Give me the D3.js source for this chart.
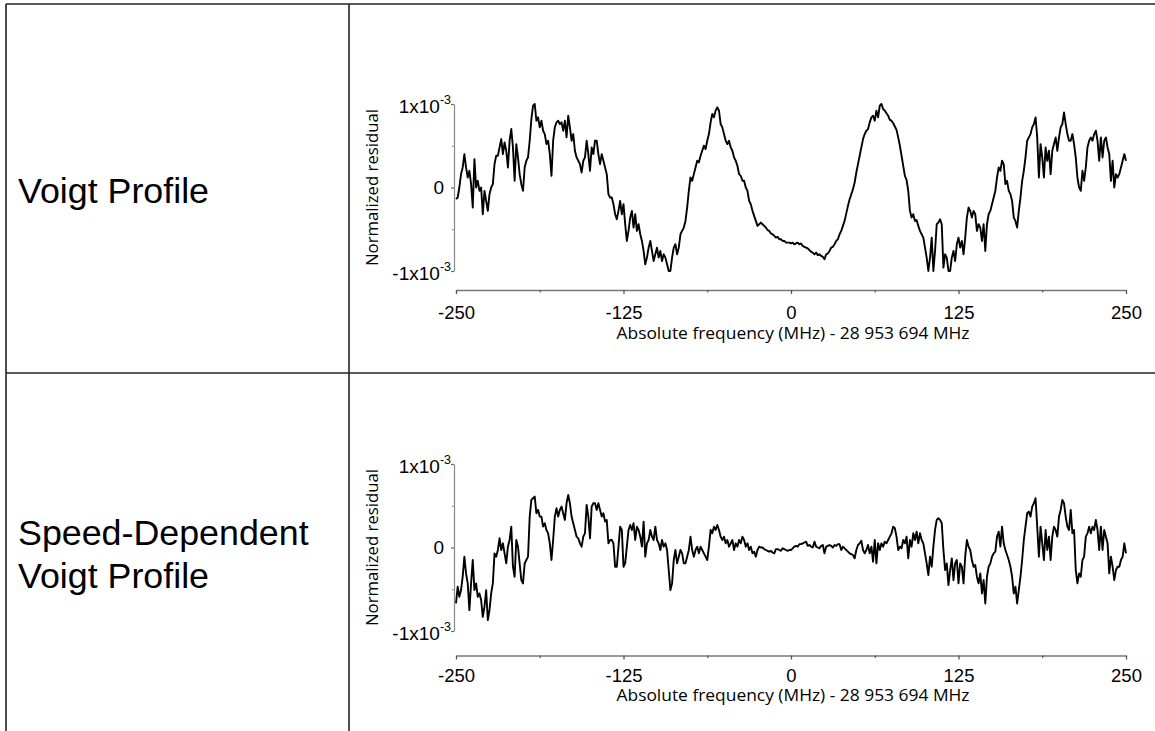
<!DOCTYPE html>
<html><head><meta charset="utf-8">
<script src="https://cdn.jsdelivr.net/npm/d3@7/dist/d3.min.js"></script>
<style>html,body{margin:0;padding:0;background:#fff;overflow:hidden}</style>
</head><body><svg id="c" width="1155" height="731"></svg>
<script>
// ---- data (residuals in units of 1e-3, sampled every 1.25 MHz from -250 MHz) ----
const freqStart = -250, freqStep = 1.25;
const voigtResidual = [
-0.14,-0.12,0.00,0.16,0.24,0.40,0.24,0.12,0.20,0.04,
-0.24,0.34,0.00,0.08,-0.04,0.00,-0.32,-0.04,-0.16,-0.28,
-0.08,0.00,0.04,0.28,0.38,0.38,0.48,0.58,0.40,0.54,
0.44,0.24,0.56,0.70,0.48,0.08,0.52,0.36,0.16,0.04,
-0.04,0.24,0.32,0.36,0.56,0.82,0.98,1.00,0.80,0.84,
0.72,0.80,0.68,0.64,0.52,0.56,0.40,0.14,0.56,0.72,
0.78,0.80,0.76,0.78,0.68,0.80,0.60,0.86,0.72,0.56,
0.64,0.44,0.36,0.32,0.28,0.18,0.32,0.36,0.56,0.40,
0.20,0.48,0.40,0.56,0.56,0.40,0.28,0.40,0.32,0.24,
0.16,-0.08,-0.12,-0.12,-0.20,-0.32,-0.38,-0.28,-0.16,-0.32,
-0.20,-0.44,-0.64,-0.52,-0.36,-0.28,-0.48,-0.32,-0.52,-0.44,
-0.56,-0.64,-0.76,-0.92,-0.84,-0.72,-0.64,-0.76,-0.88,-0.80,
-0.72,-0.84,-0.76,-0.88,-0.80,-0.84,-0.92,-1.00,-1.00,-0.84,
-0.72,-0.68,-0.80,-0.72,-0.56,-0.52,-0.48,-0.40,-0.24,-0.04,
0.12,0.08,0.16,0.24,0.32,0.30,0.38,0.44,0.50,0.46,
0.56,0.64,0.78,0.88,0.84,0.92,0.96,0.92,0.76,0.72,
0.64,0.56,0.52,0.56,0.48,0.44,0.36,0.32,0.26,0.16,
0.14,0.08,0.08,0.00,-0.04,-0.16,-0.20,-0.28,-0.34,-0.40,
-0.46,-0.44,
-0.42,-0.44,-0.46,-0.48,-0.51,-0.52,-0.55,-0.56,
-0.58,-0.60,-0.59,-0.62,-0.62,-0.64,-0.64,-0.66,-0.66,-0.66,
-0.67,-0.66,-0.68,-0.67,-0.66,-0.68,-0.67,-0.70,-0.71,-0.72,
-0.73,-0.75,-0.77,-0.78,-0.80,-0.78,-0.81,-0.80,-0.82,-0.83,
-0.86,-0.80,-0.79,-0.76,-0.72,-0.71,-0.68,-0.64,-0.62,-0.56,
-0.52,-0.46,-0.40,-0.31,-0.22,-0.14,-0.08,-0.02,0.06,0.18,
0.28,0.38,0.48,0.58,0.64,0.68,0.70,0.78,0.84,0.86,
0.80,0.92,0.84,0.98,1.00,0.94,0.92,0.89,0.86,0.81,
0.80,0.77,0.73,0.69,0.60,0.50,0.38,0.26,0.14,0.09,
-0.04,-0.28,-0.36,-0.32,-0.40,-0.39,-0.46,-0.52,-0.56,-0.60,
-0.72,-0.84,-1.00,-0.84,-0.60,-1.00,-0.76,-0.44,-0.42,-0.38,
-0.44,-0.96,-0.80,-0.84,-1.00,-1.00,-0.84,-0.76,-0.88,-0.68,
-0.60,-0.72,-0.64,-0.80,-0.60,-0.36,-0.24,-0.28,-0.36,-0.28,
-0.32,-0.52,-0.44,-0.48,-0.64,-0.44,-0.76,-0.44,-0.32,-0.28,
-0.20,-0.12,-0.04,0.12,0.24,0.20,0.32,0.28,0.04,0.08,
-0.04,-0.08,-0.16,-0.36,-0.40,-0.48,-0.28,-0.12,0.08,0.20,
0.36,0.56,0.60,0.64,0.72,0.76,0.84,0.60,0.12,0.52,
0.36,0.12,0.48,0.32,0.44,0.16,0.44,0.52,0.60,0.44,
0.60,0.72,0.76,0.90,0.76,0.64,0.56,0.56,0.64,0.52,
0.36,0.12,0.00,-0.04,0.20,0.08,0.24,0.48,0.56,0.60,
0.56,0.64,0.68,0.56,0.32,0.60,0.36,0.56,0.60,0.48,
0.40,0.08,0.32,0.00,0.16,0.12,0.16,0.24,0.32,0.40,
0.32
];
const sdvResidual = [
-0.67,-0.47,-0.59,-0.51,-0.35,-0.11,-0.31,-0.43,-0.75,-0.43,
-0.15,-0.51,-0.43,-0.59,-0.55,-0.63,-0.83,-0.71,-0.51,-0.87,
-0.75,-0.55,-0.43,-0.07,-0.11,-0.03,0.11,-0.03,0.05,-0.07,
-0.19,0.01,0.09,0.25,-0.23,-0.35,0.09,0.01,-0.19,-0.39,
-0.43,-0.19,-0.15,-0.11,0.37,0.57,0.59,0.61,0.41,0.45,
0.37,0.37,0.25,0.29,0.21,0.17,0.05,-0.15,0.09,0.37,
0.47,0.37,0.45,0.49,0.41,0.33,0.53,0.63,0.53,0.37,
0.29,0.21,0.13,0.11,0.05,0.01,0.13,0.17,0.51,0.37,
0.11,0.49,0.53,0.53,0.45,0.53,0.45,0.37,0.41,0.31,
0.33,0.05,0.09,0.09,0.05,-0.23,-0.23,0.01,0.25,0.21,
-0.23,-0.19,0.01,0.21,0.27,0.21,0.29,0.09,0.25,0.21,
0.13,0.01,0.31,-0.11,0.05,0.09,0.21,0.13,0.09,0.25,
0.09,0.05,-0.03,0.09,0.01,0.05,-0.03,-0.27,-0.51,-0.43,
-0.15,-0.03,-0.19,-0.11,-0.03,-0.07,-0.19,-0.19,-0.11,-0.03,
0.13,-0.03,-0.11,-0.03,0.01,-0.07,0.01,-0.03,-0.07,-0.11,
-0.15,0.01,0.21,0.17,0.25,0.21,0.27,0.21,0.13,0.09,
0.13,0.05,0.09,0.01,0.05,0.09,-0.03,0.05,0.01,0.09,
0.05,0.13,0.09,0.01,0.05,-0.03,0.01,-0.07,-0.05,-0.11,
-0.03,0.01,
0.00,0.00,-0.02,-0.03,-0.04,-0.05,-0.04,-0.06,
-0.07,-0.02,-0.02,-0.03,-0.04,-0.01,-0.02,-0.03,-0.04,-0.03,
-0.03,-0.01,0.01,0.02,0.01,0.04,0.04,0.05,0.06,0.07,
0.02,0.03,0.01,0.00,0.07,0.01,0.00,-0.01,0.02,0.03,
-0.07,0.01,0.02,0.03,0.02,0.00,0.03,0.02,0.04,0.04,
-0.03,0.01,-0.01,-0.03,-0.05,-0.07,-0.08,-0.09,-0.13,-0.03,
0.03,0.05,0.08,-0.03,-0.07,-0.03,0.03,-0.07,0.01,-0.17,
0.09,-0.19,0.05,-0.03,0.05,0.01,0.07,0.05,0.09,0.13,
0.17,0.25,0.23,0.13,-0.03,0.01,-0.01,0.09,0.05,0.13,
-0.13,0.09,0.01,0.17,0.09,0.19,0.05,0.17,0.09,0.05,
-0.07,-0.19,-0.33,-0.11,-0.23,0.01,0.21,0.33,0.35,0.33,
0.29,-0.03,-0.27,-0.19,-0.45,-0.27,-0.13,-0.39,-0.19,-0.15,
-0.43,-0.19,-0.23,-0.43,-0.11,0.09,0.01,-0.03,-0.15,-0.23,
-0.21,-0.35,-0.43,-0.31,-0.55,-0.39,-0.67,-0.35,-0.23,-0.19,
-0.11,-0.07,-0.05,0.13,0.19,0.01,0.25,0.05,-0.03,-0.09,
-0.15,-0.23,-0.35,-0.55,-0.47,-0.67,-0.51,-0.35,-0.15,0.09,
0.25,0.41,0.43,0.37,0.49,0.53,0.59,0.25,-0.11,0.25,
0.05,-0.15,0.21,-0.03,0.13,-0.15,0.13,0.25,0.21,0.13,
0.37,0.45,0.57,0.53,0.37,0.25,0.21,0.45,0.17,0.21,
-0.27,-0.43,-0.31,-0.35,-0.15,-0.11,0.13,0.17,0.25,0.17,
0.25,0.21,0.33,0.21,-0.03,0.25,-0.03,0.21,0.13,0.05,
-0.31,-0.11,-0.23,-0.39,-0.27,-0.23,-0.23,-0.15,-0.11,0.05,
-0.07
];
const rowLabels = [["Voigt Profile"], ["Speed-Dependent", "Voigt Profile"]];
const xTickValues = [-250, -125, 0, 125, 250];
const xTickLabels = ["-250", "-125", "0", "125", "250"];
const xMinorTicks = [-187.5, -62.5, 62.5, 187.5];
const yTickValues = [1, 0, -1];
const yTickMantissa = ["1x10", "0", "-1x10"];
const yTickExponent = ["-3", "", "-3"];
const yMinorTicks = [0.5, -0.5];
const xTitle = "Absolute frequency (MHz) - 28 953 694 MHz";
const yTitle = "Normalized residual";

// ---- layout ----
const svg = d3.select("#c");
const W = 1155, H = 731;
const tableStroke = "#222";
const tbl = svg.append("g").attr("stroke", tableStroke).attr("stroke-width", 1.6).attr("fill", "none");
tbl.append("line").attr("x1", 6).attr("x2", W + 2).attr("y1", 4).attr("y2", 4);
tbl.append("line").attr("x1", 6).attr("x2", 6).attr("y1", 4).attr("y2", H + 2);
tbl.append("line").attr("x1", 349).attr("x2", 349).attr("y1", 4).attr("y2", H + 2);
tbl.append("line").attr("x1", 6).attr("x2", W + 2).attr("y1", 373).attr("y2", 373);

const labelFont = "'Liberation Sans', Arial, sans-serif";
const titleFont = "'Open Sans', 'Noto Sans', sans-serif";

const panels = [
  { data: voigtResidual, labels: rowLabels[0], labelY: [203], yTop: 104, yBot: 271, axisY: 290, tickBase: 319, titleBase: 339, yCenter: 187.5 },
  { data: sdvResidual, labels: rowLabels[1], labelY: [545, 588], yTop: 464, yBot: 631, axisY: 655.5, tickBase: 682, titleBase: 701, yCenter: 547.5 }
];

const x = d3.scaleLinear().domain([-250, 250]).range([456, 1126]);

panels.forEach(p => {
  // row label
  p.labels.forEach((t, i) => {
    svg.append("text").attr("x", 18).attr("y", p.labelY[i])
      .attr("font-family", labelFont).attr("font-size", 35.8).attr("fill", "#000").text(t);
  });

  const y = d3.scaleLinear().domain([-1, 1]).range([p.yBot, p.yTop]);

  // x axis
  const gx = svg.append("g").attr("transform", `translate(0,${p.axisY})`);
  gx.call(d3.axisBottom(x).tickValues(xTickValues).tickSize(4).tickSizeOuter(0)
    .tickFormat((d, i) => xTickLabels[i]));
  gx.select(".domain").attr("stroke", "#777").attr("stroke-width", 1.3);
  gx.selectAll(".tick line").attr("stroke", "#555").attr("stroke-width", 1.3);
  gx.selectAll(".tick text").attr("font-family", labelFont).attr("font-size", 18.5).attr("fill", "#000")
    .attr("dy", null).attr("y", p.tickBase - p.axisY);
  const gxm = svg.append("g").attr("transform", `translate(0,${p.axisY})`);
  gxm.call(d3.axisBottom(x).tickValues(xMinorTicks).tickSize(2.5).tickFormat(""));
  gxm.select(".domain").remove();
  gxm.selectAll(".tick line").attr("stroke", "#555").attr("stroke-width", 1.2);

  // y axis
  const gy = svg.append("g").attr("transform", "translate(454,0)");
  gy.call(d3.axisLeft(y).tickValues(yTickValues).tickSize(3).tickSizeOuter(0).tickFormat(""));
  gy.select(".domain").attr("stroke", "#888").attr("stroke-width", 1.2);
  gy.selectAll(".tick line").attr("stroke", "#666").attr("stroke-width", 1.2);
  const gym = svg.append("g").attr("transform", "translate(454,0)");
  gym.call(d3.axisLeft(y).tickValues(yMinorTicks).tickSize(2).tickFormat(""));
  gym.select(".domain").remove();
  gym.selectAll(".tick line").attr("stroke", "#888").attr("stroke-width", 1);

  yTickValues.forEach((v, i) => {
    const t = svg.append("text").attr("font-family", labelFont).attr("font-size", 19).attr("fill", "#000")
      .attr("text-anchor", "end");
    if (yTickExponent[i]) {
      t.attr("x", 451).attr("y", y(v) + 8.5);
      t.append("tspan").text(yTickMantissa[i]);
      t.append("tspan").attr("font-size", 12.5).attr("dy", -8.5).text(yTickExponent[i]);
    } else {
      t.attr("x", 444).attr("y", y(v) + 6.5).text(yTickMantissa[i]);
    }
  });

  // titles
  svg.append("text").attr("x", 793).attr("y", p.titleBase).attr("text-anchor", "middle")
    .attr("font-family", titleFont).attr("font-size", 16).attr("fill", "#000")
    .attr("textLength", 353).attr("lengthAdjust", "spacingAndGlyphs").text(xTitle);
  svg.append("text").attr("transform", `translate(377.5,${p.yCenter}) rotate(-90)`).attr("text-anchor", "middle")
    .attr("font-family", titleFont).attr("font-size", 17).attr("fill", "#000")
    .attr("textLength", 157).attr("lengthAdjust", "spacingAndGlyphs").text(yTitle);

  // trace
  const line = d3.line().x((d, i) => x(freqStart + i * freqStep)).y(d => y(d));
  svg.append("path").datum(p.data).attr("d", line).attr("fill", "none")
    .attr("stroke", "#000").attr("stroke-width", 1.9).attr("stroke-linejoin", "round");
});
</script></body></html>
